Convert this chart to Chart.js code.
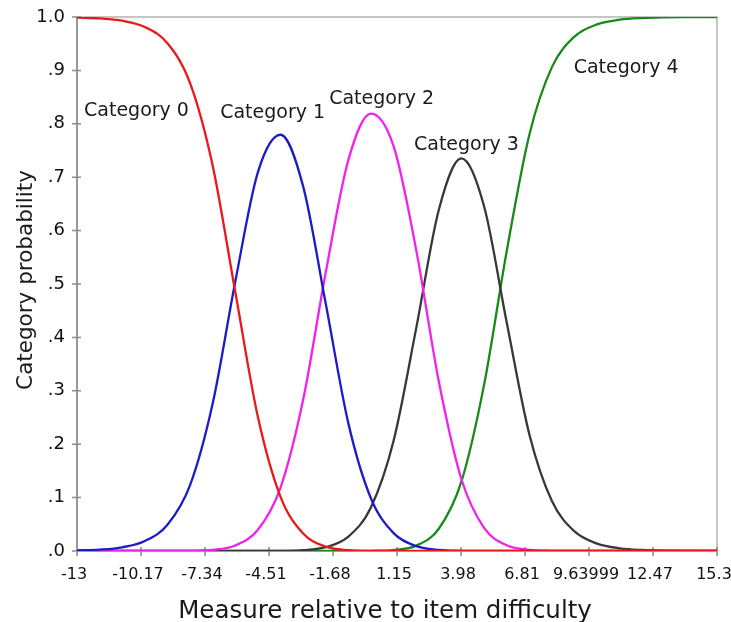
<!DOCTYPE html>
<html>
<head>
<meta charset="utf-8">
<script src="https://cdn.jsdelivr.net/npm/chart.js@4.4.1/dist/chart.umd.min.js"></script>
<style>
  html, body { margin: 0; padding: 0; background: #fff; }
  #wrap { width: 731px; height: 622px; position: relative; }
</style>
</head>
<body>
<div id="wrap"><canvas id="grafico"></canvas></div>
<script>
// ===== DADOS =====
const medidas = [-13, -12, -11, -10, -9, -8, -7, -6, -5, -4, -3, -2, -1, 0, 1, 2, 3, 4, 5, 6, 7, 8, 9, 10, 11, 12, 13, 14, 15, 15.3];

const categoria0 = [0.9990, 0.9974, 0.9930, 0.9813, 0.9507, 0.8762, 0.7216, 0.4849, 0.2508, 0.1014, 0.0327, 0.0081, 0.0015, 0.0002, 0, 0, 0, 0, 0, 0, 0, 0, 0, 0, 0, 0, 0, 0, 0, 0];
const categoria1 = [0.0010, 0.0026, 0.0070, 0.0187, 0.0492, 0.1235, 0.2763, 0.5047, 0.7094, 0.7795, 0.6828, 0.4629, 0.2390, 0.0983, 0.0335, 0.0092, 0.0019, 0.0003, 0, 0, 0, 0, 0, 0, 0, 0, 0, 0, 0, 0];
const categoria2 = [0, 0, 0, 0, 0.0001, 0.0003, 0.0021, 0.0104, 0.0398, 0.1189, 0.2832, 0.5219, 0.7324, 0.8192, 0.7581, 0.5634, 0.3174, 0.1343, 0.0434, 0.0106, 0.0020, 0.0003, 0, 0, 0, 0, 0, 0, 0, 0];
const categoria3 = [0, 0, 0, 0, 0, 0, 0, 0, 0, 0.0002, 0.0014, 0.0071, 0.0270, 0.0821, 0.2066, 0.4174, 0.6391, 0.7351, 0.6455, 0.4283, 0.2188, 0.0936, 0.0366, 0.0138, 0.0051, 0.0019, 0.0007, 0.0003, 0.0001, 0.0001];
const categoria4 = [0, 0, 0, 0, 0, 0, 0, 0, 0, 0, 0, 0, 0, 0.0003, 0.0018, 0.0100, 0.0417, 0.1303, 0.3111, 0.5611, 0.7792, 0.9061, 0.9634, 0.9862, 0.9949, 0.9981, 0.9993, 0.9997, 0.9999, 0.9999];

const nomesCategorias = ['Category 0', 'Category 1', 'Category 2', 'Category 3', 'Category 4'];
// onde cada rótulo fica, em unidades dos eixos (centro x, linha de base y)
const rotuloX = [-10.37, -4.35, 0.47, 4.22, 11.28];
const rotuloY = [0.815, 0.810, 0.838, 0.751, 0.895];

const ticksX   = [-13, -10.17, -7.34, -4.51, -1.68, 1.15, 3.98, 6.81, 9.63999, 12.47, 15.3];
const rotulosX = ['-13', '-10.17', '-7.34', '-4.51', '-1.68', '1.15', '3.98', '6.81', '9.63999', '12.47', '15.3'];
const ticksY   = [0, 0.1, 0.2, 0.3, 0.4, 0.5, 0.6, 0.7, 0.8, 0.9, 1.0];
const rotulosY = ['.0', '.1', '.2', '.3', '.4', '.5', '.6', '.7', '.8', '.9', '1.0'];

const tituloX = 'Measure relative to item difficulty';
const tituloY = 'Category probability';

const cores = ['#ea1818', '#1c1cc6', '#f022ec', '#383838', '#178a17'];
const FONTE = '"DejaVu Sans", Verdana, sans-serif';


// ===== PLUGIN: moldura, marcas, rótulos e títulos =====
const molduraPlugin = {
  id: 'moldura',

  beforeDatasetsDraw(chart) {
    const { ctx, chartArea: a, scales } = chart;
    ctx.save();
    ctx.strokeStyle = '#8c8c8c';
    ctx.lineWidth = 1;
    ctx.strokeRect(a.left, a.top, a.right - a.left, a.bottom - a.top);

    ctx.lineWidth = 1.5;
    ctx.beginPath();
    ctx.moveTo(a.left, a.top);
    ctx.lineTo(a.left, a.bottom);
    ctx.lineTo(a.right, a.bottom);
    // marcas cruzando os eixos
    scales.y.ticks.forEach(t => {
      const y = scales.y.getPixelForValue(t.value);
      ctx.moveTo(a.left - 5, y);
      ctx.lineTo(a.left + 4, y);
    });
    scales.x.ticks.forEach(t => {
      const x = scales.x.getPixelForValue(t.value);
      ctx.moveTo(x, a.bottom - 4);
      ctx.lineTo(x, a.bottom + 5);
    });
    ctx.stroke();
    ctx.restore();
  },

  afterDatasetsDraw(chart) {
    const { ctx, scales } = chart;
    ctx.save();
    ctx.font = '19px ' + FONTE;
    ctx.fillStyle = '#1a1a1a';
    ctx.textAlign = 'center';
    ctx.textBaseline = 'alphabetic';
    nomesCategorias.forEach((nome, i) => {
      ctx.fillText(nome, scales.x.getPixelForValue(rotuloX[i]), scales.y.getPixelForValue(rotuloY[i]));
    });
    ctx.restore();
  },

  afterDraw(chart) {
    const { ctx, chartArea: a } = chart;
    ctx.save();
    ctx.fillStyle = '#1a1a1a';
    ctx.textAlign = 'center';
    ctx.textBaseline = 'alphabetic';

    ctx.font = '24.5px ' + FONTE;
    ctx.fillText(tituloX, (a.left + a.right) / 2 - 12, 618);

    ctx.translate(32, (a.top + a.bottom) / 2 - 4);
    ctx.rotate(-Math.PI / 2);
    ctx.font = '21.5px ' + FONTE;
    ctx.fillText(tituloY, 0, 0);
    ctx.restore();
  }
};


// ===== GRÁFICO =====
const serie = valores => medidas.map((x, i) => ({ x, y: valores[i] }));

const ctx = document.getElementById('grafico').getContext('2d');

new Chart(ctx, {
  type: 'line',
  data: {
    datasets: [categoria0, categoria1, categoria2, categoria3, categoria4].map((valores, i) => ({
      label: nomesCategorias[i],
      data: serie(valores),
      borderColor: cores[i],
      borderWidth: 2.3,
      pointRadius: 0,
      fill: false,
      cubicInterpolationMode: 'monotone'
    }))
  },
  options: {
    responsive: true,
    maintainAspectRatio: false,
    animation: false,
    layout: { padding: { top: 17, right: 14, left: 0, bottom: 0 } },
    plugins: {
      legend: { display: false },
      tooltip: { enabled: false }
    },
    scales: {
      x: {
        type: 'linear',
        min: -13,
        max: 15.3,
        afterBuildTicks: s => { s.ticks = ticksX.map(v => ({ value: v })); },
        afterFit: s => {
          s.height = 71;
          s.paddingLeft = 0; s.paddingRight = 0;
        },
        grid: { display: false, drawTicks: false },
        border: { display: false },
        ticks: {
          autoSkip: false,
          maxRotation: 0,
          padding: 14,
          labelOffset: -3,
          color: '#111',
          font: { family: FONTE, size: 16 },
          callback: (v, i) => rotulosX[i]
        }
      },
      y: {
        min: 0,
        max: 1,
        afterBuildTicks: s => { s.ticks = ticksY.map(v => ({ value: v })); },
        afterFit: s => {
          s.width = 77;
          s.paddingTop = 0; s.paddingBottom = 0;
        },
        grid: { display: false, drawTicks: false },
        border: { display: false },
        ticks: {
          padding: 12,
          color: '#111',
          font: { family: FONTE, size: 18 },
          callback: (v, i) => rotulosY[i]
        }
      }
    }
  },
  plugins: [molduraPlugin]
});
</script>
</body>
</html>
